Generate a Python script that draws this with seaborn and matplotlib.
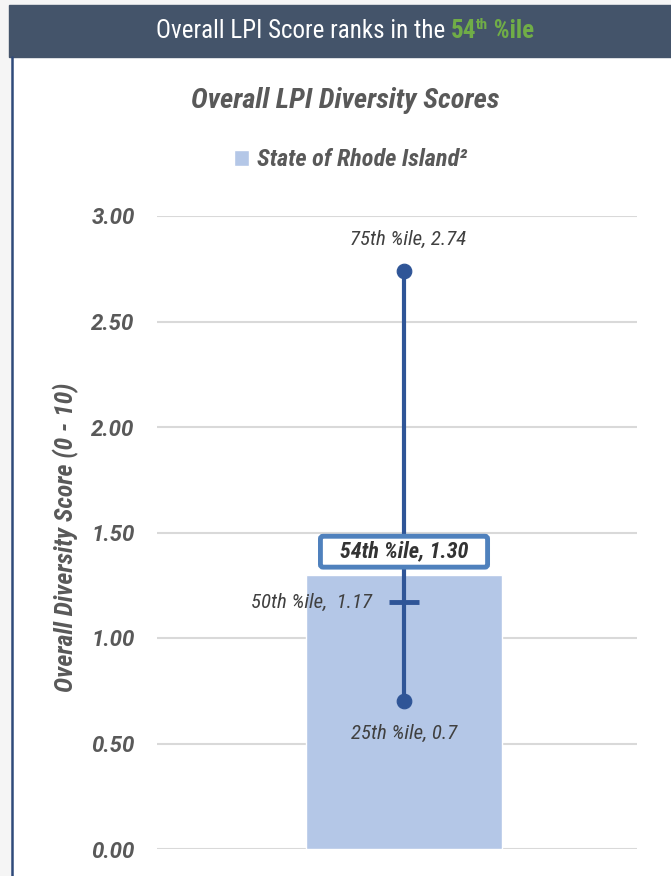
import matplotlib
matplotlib.use("Agg")
import matplotlib.pyplot as plt
import seaborn as sns
import pandas as pd
from matplotlib.patches import Rectangle
from matplotlib.lines import Line2D
from matplotlib import font_manager

# ---- data ----
categories = ["State of Rhode Island"]
state_score = [1.30]
pct_labels = ["25th %ile", "50th %ile", "75th %ile"]
pct_values = [0.70, 1.17, 2.74]
state_pct_label = "54th %ile"
y_ticks = [0.00, 0.50, 1.00, 1.50, 2.00, 2.50, 3.00]

names = {f.name for f in font_manager.fontManager.ttflist}
cands = ["Roboto Condensed", "Liberation Sans Narrow"]
avail = [c for c in cands if c in names]
NARROW = avail[0] if avail else "DejaVu Sans"
FAM = [NARROW, "DejaVu Sans"]
TICKFAM = ["Roboto", "DejaVu Sans"]

sns.set_theme(style="white")
plt.rcParams["font.family"] = FAM
plt.rcParams["font.stretch"] = "condensed"

W, H = 671, 876
fig = plt.figure(figsize=(W / 100, H / 100), dpi=100)
fig.patch.set_facecolor("white")

def px(x, y):
    return x / W, 1 - y / H

# panel surroundings
fig.patches.append(Rectangle((0, 0), 11 / W, 1, transform=fig.transFigure, color="#f5f5f5", zorder=0))
fig.patches.append(Rectangle((0, 1 - 5 / H), 1, 5 / H, transform=fig.transFigure, color="#f5f5f5", zorder=0))
hx, hy = px(9, 57)
fig.patches.append(Rectangle((hx, hy), 1 - hx, 52 / H, transform=fig.transFigure, color="#44546A", zorder=1))
fig.lines.append(Line2D([12 / W, 12 / W], [0, hy], transform=fig.transFigure, color="#2F4A7A", lw=1.8, zorder=2))

HS = 18
t1 = fig.text(0.2, px(0, 31)[1], "Overall LPI Score ranks in the ", color="white", fontsize=HS,
              va="center", ha="left", family=FAM)
t2 = fig.text(0, 0, "54", color="#70AD47", fontsize=HS, fontweight="bold", family=FAM)
t3 = fig.text(0, 0, "th", color="#70AD47", fontsize=11, fontweight="bold", family=FAM)
t4 = fig.text(0, 0, " %ile", color="#70AD47", fontsize=HS, fontweight="bold", family=FAM)
fig.canvas.draw()
r = fig.canvas.get_renderer()

def place_chain():
    b1 = t1.get_window_extent(r)
    base = t1.get_position()[1]
    t2.set_position((b1.x1 / W, base)); t2.set_va("center")
    fig.canvas.draw()
    b2 = t2.get_window_extent(r)
    t3.set_position((b2.x1 / W, base + 6 / H)); t3.set_va("center")
    fig.canvas.draw()
    b3 = t3.get_window_extent(r)
    t4.set_position((b3.x1 / W, base)); t4.set_va("center")
    fig.canvas.draw()
    return b1.x0, t4.get_window_extent(r).x1

x0, x1 = place_chain()
shift = (345 - (x0 + x1) / 2) / W
t1.set_x(t1.get_position()[0] + shift)
place_chain()

fig.text(*px(345, 100), "Overall LPI Diversity Scores", ha="center", va="center", fontsize=20.5,
         fontweight="bold", fontstyle="italic", color="#595959", family=FAM)

ax = fig.add_axes([157 / W, 1 - 849 / H, (637 - 157) / W, (849 - 216) / H])
df = pd.DataFrame({"cat": categories, "score": state_score})
sns.barplot(data=df, x="cat", y="score", color="#B4C7E7", saturation=1, width=0.41, ax=ax,
            label="State of Rhode Island²", zorder=2)
navy = "#2F5597"
ax.plot([0, 0], [pct_values[0], pct_values[2]], color=navy, lw=3, zorder=4, solid_capstyle="butt")
pdf = pd.DataFrame({"x": [0, 0], "y": [pct_values[0], pct_values[2]]})
sns.scatterplot(data=pdf, x="x", y="y", color=navy, s=110, edgecolor=navy, zorder=5, ax=ax, legend=False)
ax.plot([-0.031, 0.031], [pct_values[1]] * 2, color=navy, lw=3.5, zorder=5, solid_capstyle="butt")

ax.set_xlim(-0.5146, 0.4854)
ax.set_ylim(0, 3)
ax.set_yticks(y_ticks)
ax.set_yticklabels([f"{v:.2f}" for v in y_ticks], fontsize=16, fontweight="bold", fontstyle="italic",
                   fontstretch="normal", color="#595959", family=TICKFAM)
ax.tick_params(axis="y", length=0, pad=16)
ax.set_xticks([])
ax.set_xlabel("")
ax.set_ylabel("Overall Diversity Score (0 - 10)", fontsize=18.5, fontweight="bold", fontstyle="italic",
              color="#595959", family=FAM, va="center")
ax.yaxis.set_label_coords(-0.19, 0.493)
for s in ax.spines.values():
    s.set_visible(False)
ax.grid(axis="y", color="#d9d9d9", lw=1.5)
ax.set_axisbelow(True)

lab_kw = dict(fontsize=15, fontstyle="italic", color="#404040", family=FAM, zorder=6)
ax.annotate(f"{pct_labels[2]}, {pct_values[2]:.2f}", (0, pct_values[2]), xytext=(4, 31),
            textcoords="offset pixels", ha="center", va="center", **lab_kw)
ax.annotate(f"{pct_labels[1]},  {pct_values[1]:.2f}", (0, pct_values[1]), xytext=(-32, 0),
            textcoords="offset pixels", ha="right", va="center", **lab_kw)
ax.annotate(f"{pct_labels[0]}, {pct_values[0]:g}", (0, pct_values[0]), xytext=(0, -32),
            textcoords="offset pixels", ha="center", va="center", **lab_kw)
ax.annotate(f"\u2002 {state_pct_label}, {state_score[0]:.2f} \u2002", (0, state_score[0]), xytext=(0, 23),
            textcoords="offset pixels", ha="center", va="center", fontsize=16, fontweight="bold",
            fontstyle="italic", color="#333333", family=FAM, zorder=7,
            bbox=dict(boxstyle="round,pad=0.2,rounding_size=0.12", fc="white", ec="#4F81BD", lw=3.5))

leg = ax.legend(loc="center", bbox_to_anchor=px(351, 160), bbox_transform=fig.transFigure, frameon=False,
                handlelength=0.6, handleheight=0.6, handletextpad=0.35,
                prop=dict(family=FAM, size=17.5, weight="bold", style="italic"))
for t in leg.get_texts():
    t.set_color("#595959")

fig.savefig("out.png", dpi=100, facecolor=fig.get_facecolor())
